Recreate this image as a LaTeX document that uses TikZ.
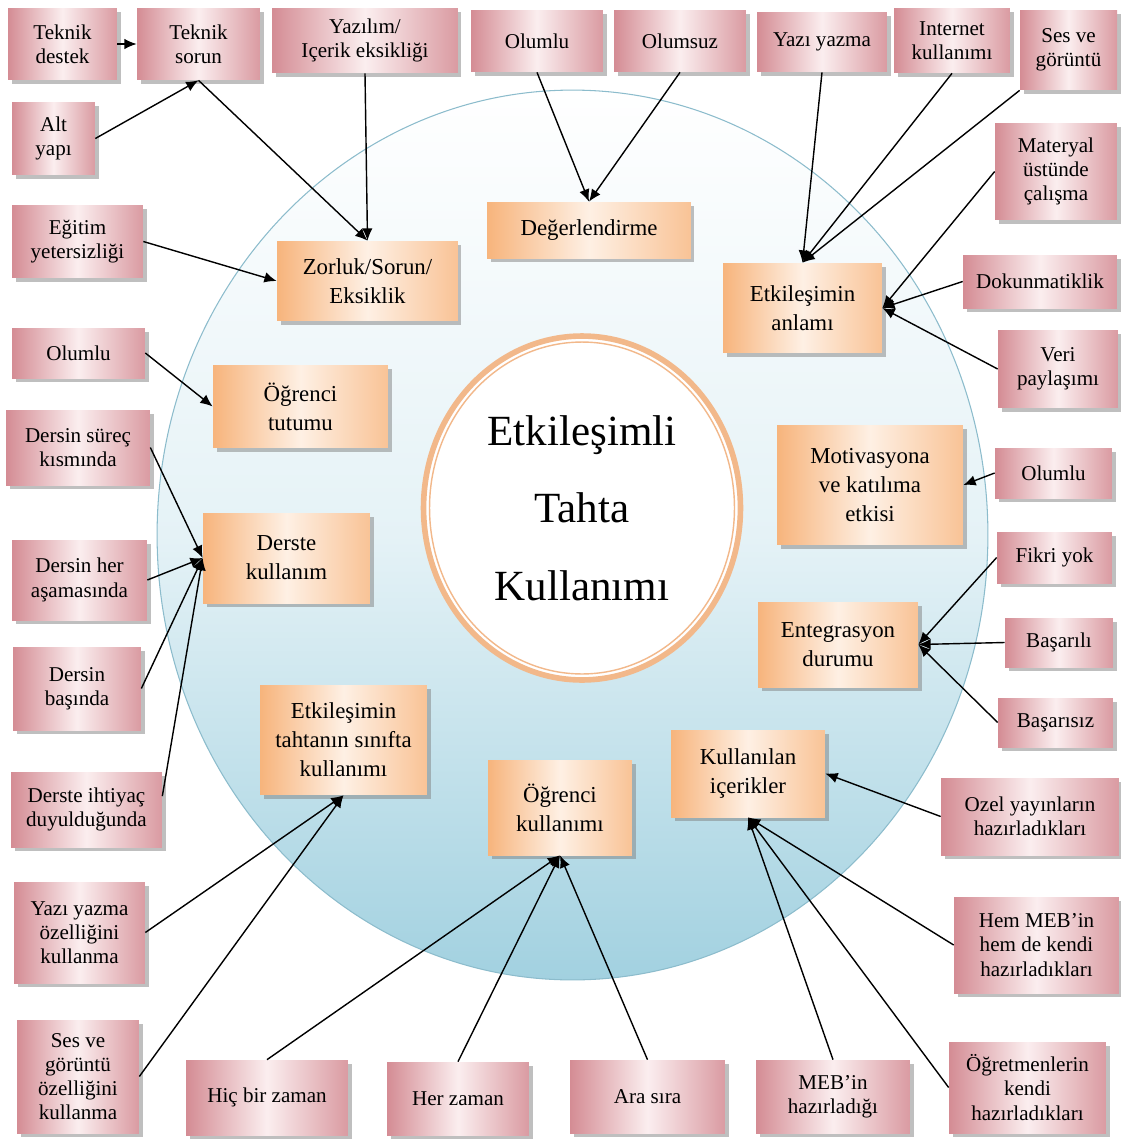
\documentclass[tikz,border=0pt]{standalone}
\usepackage{fontspec}
\setmainfont{Liberation Serif}
\usetikzlibrary{arrows.meta,shapes.geometric,shadows,calc}

\definecolor{gulkoyu}{RGB}{212,140,148}
\definecolor{gulacik}{RGB}{251,238,239}
\definecolor{turuncu}{RGB}{247,180,124}
\definecolor{seftali}{RGB}{254,240,228}
\definecolor{mavi}{RGB}{162,209,224}
\definecolor{mavicizgi}{RGB}{140,188,204}
\definecolor{halka}{RGB}{242,184,138}

\tikzset{
	yaprak/.style={rectangle, inner sep=1pt, align=center,
		left color=gulkoyu, right color=gulkoyu!85!gulacik, middle color=gulacik,
		font=\fontsize{12}{13.8}\selectfont,
		drop shadow={shadow xshift=2pt, shadow yshift=-2pt, fill=black!50, opacity=0.5}},
	konu/.style={rectangle, inner sep=1pt, align=center,
		left color=turuncu, right color=turuncu!75!seftali, middle color=seftali,
		font=\fontsize{13}{16.5}\selectfont,
		drop shadow={shadow xshift=2pt, shadow yshift=-2pt, fill=black!50, opacity=0.5}},
	ok/.style={line width=0.8pt, -{Latex[length=7pt,width=6pt]}}
}

\begin{document}
\begin{tikzpicture}[x=0.02cm, y=-0.02cm]
		%%%%% START %%%%%
		\useasboundingbox (0,0) rectangle (1120,1140);
		
		\draw[draw=mavicizgi, line width=0.6pt, top color=white, bottom color=mavi, middle color=mavi!28!white] (572.5,535) ellipse [x radius=8.31cm, y radius=8.9cm];
		
		\node[ellipse, draw=halka, line width=3.2pt, fill=white, inner sep=0pt, minimum width=6.34cm, minimum height=6.88cm, align=center, font=\fontsize{24.5}{44}\selectfont] (merkez) at (582,508) {Etkileşimli\\Tahta\\Kullanımı};
		\draw[halka, line width=0.8pt] (merkez.center) ellipse [x radius=3.05cm, y radius=3.32cm];
		
		%%%%% ORTA KUTULAR %%%%%
		\node[konu, minimum width=3.62cm, minimum height=1.60cm] (zorluk) at (367.5,281) {Zorluk/Sorun/\\Eksiklik};
		\node[konu, minimum width=4.08cm, minimum height=1.12cm] (degerl) at (589,230) {Değerlendirme};
		\node[konu, minimum width=3.18cm, minimum height=1.80cm] (etkanlam) at (802.5,308) {Etkileşimin\\anlamı};
		\node[konu, minimum width=3.50cm, minimum height=1.66cm] (ogtutum) at (300.5,406.5) {Öğrenci\\tutumu};
		\node[konu, minimum width=3.72cm, minimum height=2.40cm] (motiv) at (870,485) {Motivasyona\\ve katılıma\\etkisi};
		\node[konu, minimum width=3.34cm, minimum height=1.80cm] (derste) at (286.5,558) {Derste\\kullanım};
		\node[konu, minimum width=3.20cm, minimum height=1.70cm] (entegr) at (838,644.5) {Entegrasyon\\durumu};
		\node[konu, minimum width=3.34cm, minimum height=2.20cm] (etktahta) at (343.5,740) {Etkileşimin\\tahtanın sınıfta\\kullanımı};
		\node[konu, minimum width=2.88cm, minimum height=1.90cm] (ogkull) at (560,807.5) {Öğrenci\\kullanımı};
		\node[konu, minimum width=3.08cm, minimum height=1.74cm] (kullicer) at (748,773.5) {Kullanılan\\içerikler};
		
		%%%%% UST SIRA %%%%%
		\node[yaprak, minimum width=2.18cm, minimum height=1.44cm] (tdestek) at (62.5,44) {Teknik\\destek};
		\node[yaprak, minimum width=2.46cm, minimum height=1.44cm] (tsorun) at (198.5,44) {Teknik\\sorun};
		\node[yaprak, minimum width=3.72cm, minimum height=1.30cm] (yazilim) at (365,40.5) {Yazılım/\\Içerik eksikliği};
		\node[yaprak, minimum width=2.64cm, minimum height=1.24cm] (olumlu1) at (537,41) {Olumlu};
		\node[yaprak, minimum width=2.64cm, minimum height=1.24cm] (olumsuz) at (680,41) {Olumsuz};
		\node[yaprak, minimum width=2.60cm, minimum height=1.20cm] (yyazma) at (822,42) {Yazı yazma};
		\node[yaprak, minimum width=2.32cm, minimum height=1.30cm] (internet) at (952,40.5) {Internet\\kullanımı};
		\node[yaprak, minimum width=1.94cm, minimum height=1.60cm] (sesgor) at (1068.5,50) {Ses ve\\görüntü};
		
		%%%%% SAG SUTUN %%%%%
		\node[yaprak, minimum width=2.44cm, minimum height=1.94cm] (materyal) at (1056,171.5) {Materyal\\üstünde\\çalışma};
		\node[yaprak, minimum width=3.08cm, minimum height=1.06cm] (dokun) at (1040,281.5) {Dokunmatiklik};
		\node[yaprak, minimum width=2.40cm, minimum height=1.56cm] (veri) at (1058,369) {Veri\\paylaşımı};
		\node[yaprak, minimum width=2.34cm, minimum height=1.00cm] (olumlu3) at (1053.5,473) {Olumlu};
		\node[yaprak, minimum width=2.30cm, minimum height=1.02cm] (fikri) at (1054.5,557.5) {Fikri yok};
		\node[yaprak, minimum width=2.16cm, minimum height=0.98cm] (basarili) at (1059,642.5) {Başarılı};
		\node[yaprak, minimum width=2.30cm, minimum height=0.98cm] (basarisiz) at (1055.5,722.5) {Başarısız};
		\node[yaprak, minimum width=3.56cm, minimum height=1.54cm] (ozel) at (1030,816.5) {Ozel yayınların\\hazırladıkları};
		\node[yaprak, minimum width=3.30cm, minimum height=1.92cm] (hemmeb) at (1036.5,945) {Hem MEB'in\\hem de kendi\\hazırladıkları};
		
		%%%%% ALT SIRA %%%%%
		\node[yaprak, minimum width=3.14cm, minimum height=1.82cm] (ogretmen) at (1027.5,1087.5) {Öğretmenlerin\\kendi\\hazırladıkları};
		\node[yaprak, minimum width=3.08cm, minimum height=1.46cm] (mebin) at (833,1096.5) {MEB'in\\hazırladığı};
		\node[yaprak, minimum width=3.10cm, minimum height=1.46cm] (arasira) at (647.5,1096.5) {Ara sıra};
		\node[yaprak, minimum width=2.84cm, minimum height=1.46cm] (herzaman) at (458,1098.5) {Her zaman};
		\node[yaprak, minimum width=3.24cm, minimum height=1.50cm] (hicbir) at (267,1097.5) {Hiç bir zaman};
		
		%%%%% SOL SUTUN %%%%%
		\node[yaprak, minimum width=2.44cm, minimum height=2.26cm] (sesozel) at (78,1076.5) {Ses ve\\görüntü\\özelliğini\\kullanma};
		\node[yaprak, minimum width=2.62cm, minimum height=2.02cm] (yyozel) at (79.5,932.5) {Yazı yazma\\özelliğini\\kullanma};
		\node[yaprak, minimum width=3.02cm, minimum height=1.50cm] (ihtiyac) at (86.5,809.5) {Derste ihtiyaç\\duyulduğunda};
		\node[yaprak, minimum width=2.56cm, minimum height=1.66cm] (basinda) at (77,688.5) {Dersin\\başında};
		\node[yaprak, minimum width=2.70cm, minimum height=1.60cm] (heras) at (79.5,580) {Dersin her\\aşamasında};
		\node[yaprak, minimum width=2.88cm, minimum height=1.50cm] (surec) at (78,447.5) {Dersin süreç\\kısmında};
		\node[yaprak, minimum width=2.66cm, minimum height=1.00cm] (olumlu2) at (78.5,353) {Olumlu};
		\node[yaprak, minimum width=2.62cm, minimum height=1.46cm] (egitim) at (77.5,241.5) {Eğitim\\yetersizliği};
		\node[yaprak, minimum width=1.66cm, minimum height=1.46cm] (altyapi) at (53.5,138.5) {Alt\\yapı};
		
		%%%%% OKLAR %%%%%
		\draw[ok] (tdestek) -- (tsorun);
		\draw[ok] (altyapi.east) -- (tsorun.south);
		\draw[ok] (tsorun.south) -- (zorluk.north);
		\draw[ok] (yazilim.south) -- (zorluk.north);
		\draw[ok] (egitim.east) -- (zorluk.west);
		
		\draw[ok] (olumlu1.south) -- (degerl.north);
		\draw[ok] (olumsuz.south) -- (degerl.north);
		
		\draw[ok] (yyazma.south) -- (etkanlam.north);
		\draw[ok] (internet.south) -- (etkanlam.north);
		\draw[ok] (sesgor.south west) -- (etkanlam.north);
		\draw[ok] (materyal.west) -- (etkanlam.east);
		\draw[ok] (dokun.west) -- (etkanlam.east);
		\draw[ok] (veri.west) -- (etkanlam.east);
		
		\draw[ok] (olumlu2.east) -- (ogtutum.west);
		\draw[ok] (surec.east) -- (derste.west);
		\draw[ok] (heras.east) -- (derste.west);
		\draw[ok] (basinda.east) -- (derste.west);
		\draw[ok] (ihtiyac.10) -- (derste.west);
		
		\draw[ok] (olumlu3.west) -- (motiv.east);
		\draw[ok] (fikri.west) -- (entegr.east);
		\draw[ok] (basarili.west) -- (entegr.east);
		\draw[ok] (basarisiz.west) -- (entegr.east);
		
		\draw[ok] (ozel.west) -- (kullicer.east);
		\draw[ok] (hemmeb.west) -- (kullicer.south);
		\draw[ok] (ogretmen.west) -- (kullicer.south);
		\draw[ok] (mebin.north) -- (kullicer.south);
		
		\draw[ok] (yyozel.east) -- (etktahta.south);
		\draw[ok] (sesozel.east) -- (etktahta.south);
		\draw[ok] (hicbir.north) -- (ogkull.south);
		\draw[ok] (herzaman.north) -- (ogkull.south);
		\draw[ok] (arasira.north) -- (ogkull.south);
		
		%%%%% END %%%%%
\end{tikzpicture}
\end{document}
